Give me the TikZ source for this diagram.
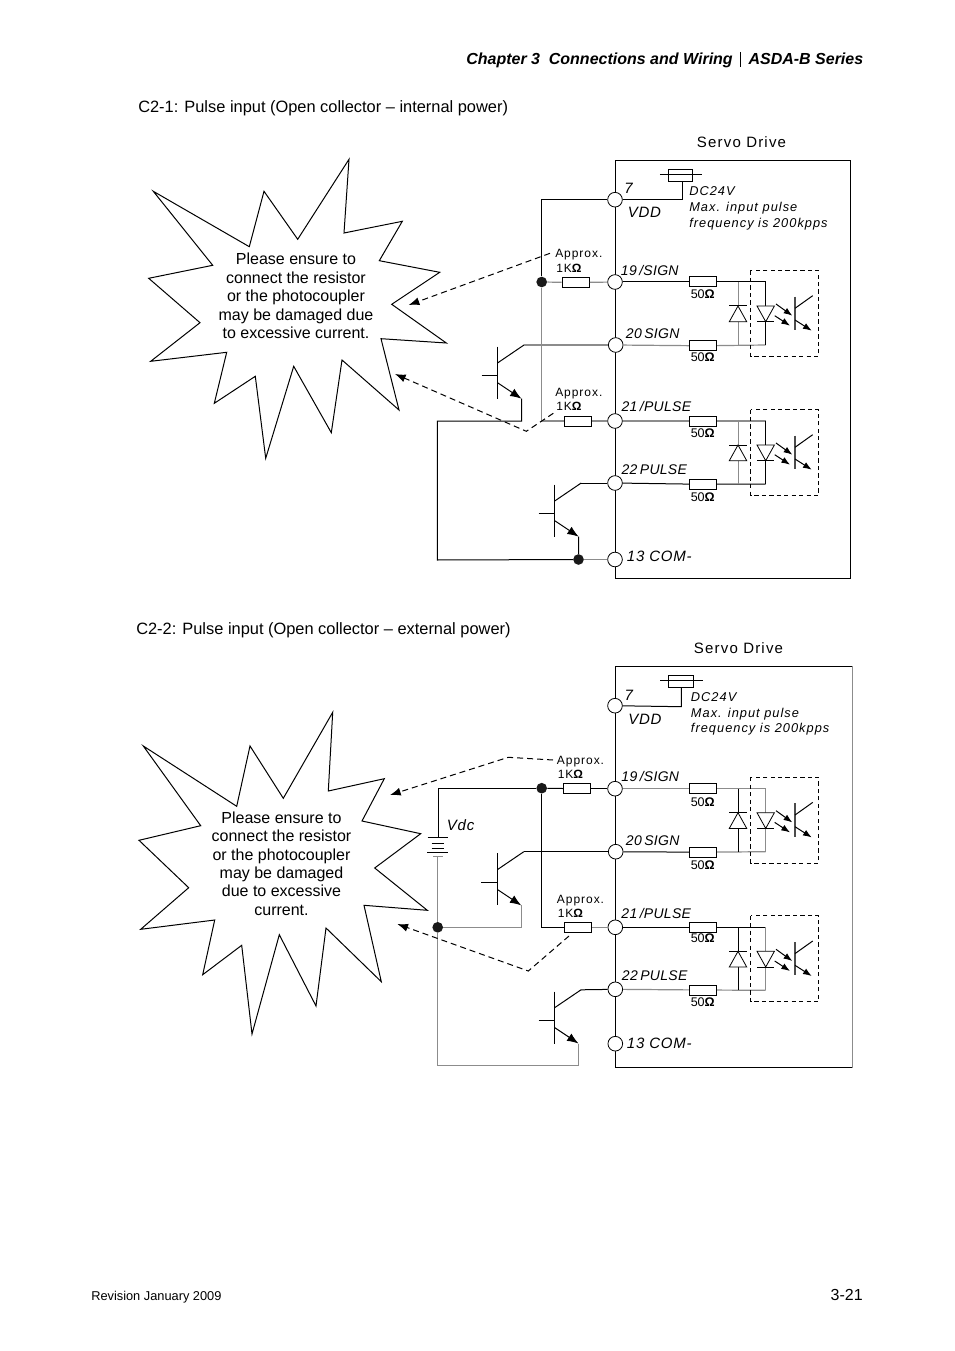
\documentclass[tikz,border=0pt]{standalone}
\usepackage{fontspec}
\setmainfont{Liberation Sans}
\newfontfamily\lsb[LetterSpace=8]{Liberation Sans}
\newfontfamily\lsc[LetterSpace=5]{Liberation Sans}
\newfontfamily\lsd[LetterSpace=2,WordSpace=0.6]{Liberation Sans}
\usetikzlibrary{arrows.meta,calc}
\definecolor{wiregray}{gray}{0.55}
\newcommand{\ohm}{{\bfseries Ω}}
\tikzset{
  wire/.style={line width=0.75pt,black},
  wg/.style={line width=0.9pt,wiregray},
  tip/.style={-{Latex[length=8.5pt,width=6.5pt]}},
  leader/.style={line width=0.75pt,dash pattern=on 4.5pt off 3pt,-{Latex[length=8pt,width=6pt]}},
  terminal/.style={circle,draw,line width=0.6pt,fill=white,minimum size=11pt,inner sep=0pt},
  jdot/.style={circle,fill=black!90,minimum size=8pt,inner sep=0pt},
  res/.style={rectangle,draw,line width=0.75pt,fill=white,minimum width=20.4pt,minimum height=7.5pt,inner sep=0pt},
  fuse/.style={rectangle,draw,line width=0.6pt,fill=white,minimum width=18.4pt,minimum height=9pt,inner sep=0pt},
  drivebox/.style={rectangle,draw,line width=0.75pt,anchor=north west,inner sep=0pt},
  burst/.style={line width=0.75pt,draw=black,fill=white,line join=miter},
  txt/.style={anchor=base west,inner sep=0pt,font=\fontsize{12.3}{14}\selectfont},
  lab/.style={anchor=base west,inner sep=0pt,font=\lsd\itshape\fontsize{10.5}{12}\selectfont},
  big/.style={anchor=base west,inner sep=0pt,font=\lsc\itshape\fontsize{11.25}{13}\selectfont},
  note/.style={anchor=base west,inner sep=0pt,font=\lsb\itshape\fontsize{9.6}{11}\selectfont},
  small/.style={anchor=base west,inner sep=0pt,font=\lsb\fontsize{9}{11}\selectfont},
  fifty/.style={anchor=base west,inner sep=0pt,font=\fontsize{9.4}{11}\selectfont},
  servo/.style={anchor=base,inner sep=0pt,font=\lsb\fontsize{11.25}{13}\selectfont},
  warn/.style={align=center,inner sep=0pt,font=\fontsize{12}{13.8}\selectfont},
}
% #1 wire y, #2 rung colour, #3 LED lead colour
\newcommand{\optocoupler}[3]{%
  \begin{scope}[shift={(0,#1)}]
    \draw[line width=0.75pt,#2] (738,0) -- (738,24) (738,39.7) -- (738,63);
    \draw[line width=0.75pt,#3] (765.7,0) -- (765.7,24) (765.7,39.7) -- (765.7,63);
    \draw[line width=0.75pt] (729.3,24) -- (746.7,24);
    \draw[line width=0.6pt,fill=white] (738,24) -- (729.3,39.7) -- (746.7,39.7) -- cycle;
    \draw[line width=0.6pt,fill=white] (757,24) -- (774.4,24) -- (765.7,39.7) -- cycle;
    \draw[line width=0.75pt] (757,39.7) -- (774.4,39.7);
    \draw[line width=0.75pt,dash pattern=on 3.2pt off 2.4pt] (750.5,-11.5) rectangle (818.7,74.3);
    \draw[line width=0.9pt,black!70] (795,14.7) -- (795,48);
    \draw[wire] (795,26.3) -- (812.7,13.7);
    \draw[wire,-{Latex[length=6.5pt,width=4.8pt]}] (795,38) -- (811.7,48.7);
    \draw[wire,-{Latex[length=6.5pt,width=4.8pt]}] (776,22) -- (792.3,33.7);
    \draw[wire,-{Latex[length=6.5pt,width=4.8pt]}] (774.7,33.7) -- (790,43.7);
  \end{scope}}
% #1 name, #2 bar x, #3 bar top y
\newcommand{\bjt}[3]{%
  \begin{scope}[shift={(#2,#3)}]
    \coordinate (#1-k) at (26.5,-1.7);
    \coordinate (#1-e) at (24,52);
    \draw[wire] (0,0) -- (0,52);
    \draw[wire] (-16,28.7) -- (0,28.7);
    \draw[wire] (#1-k) -- (0,16.3);
    \draw[wire,tip] (0,36) -- (#1-e);
  \end{scope}}
\begin{document}
\begin{tikzpicture}[x=0.75pt,y=-0.75pt]
\useasboundingbox (0,0) rectangle (954,1351);
\fill[white] (0,0) rectangle (954,1351);

% ---- page texts
\node[anchor=base east,inner sep=0pt,font=\bfseries\itshape\fontsize{12}{14}\selectfont] (hdr2) at (863.5,65) {ASDA-B Series};
\node[anchor=base east,inner sep=0pt,font=\bfseries\itshape\fontsize{12}{14}\selectfont] (hdr1) at (733,65) {Chapter 3\hspace{0.55em}Connections and Wiring};
\draw[line width=0.9pt] (740.5,52) -- (740.5,67);
\node[txt] (title1) at (138,113) {C2-1: Pulse input (Open collector – internal power)};
\node[txt] (title2) at (136,634) {C2-2: Pulse input (Open collector – external power)};
\node[anchor=base west,inner sep=0pt,font=\fontsize{9.6}{12}\selectfont] (foot) at (91,1300.5) {Revision January 2009};
\node[anchor=base east,inner sep=0pt,font=\fontsize{12}{14}\selectfont] (pageno) at (863,1300) {3-21};

% ================= C2-1 =================
\node[servo] (sd1) at (741.5,147.5) {Servo Drive};
\node[drivebox,minimum width=176pt,minimum height=312.8pt] (drive1) at (615.3,160.5) {};
\node[terminal] (t7a) at (615,199.7) {};
\node[terminal] (t19a) at (615,282) {};
\node[terminal] (t20a) at (615.7,345) {};
\node[terminal] (t21a) at (615,421) {};
\node[terminal] (t22a) at (615,483) {};
\node[terminal] (t13a) at (615,559.5) {};
\node[fuse] (fa) at (680.5,175.5) {};
\draw[wire] ([xshift=-6pt]fa.west |- 0,174.3) -- ([xshift=6.5pt]fa.east |- 0,174.3);
\draw[wire] (t7a) -- (682,199.7) -- (682,181.5);
\node[jdot] (j1) at (541.7,282) {};
\node[jdot] (j2) at (578.5,559.5) {};
\node[res] (r1a) at (575.8,282.5) {};
\node[res] (r1b) at (578,421) {};
\node[res] (r50a) at (703,282) {};
\node[res] (r50b) at (703,345.8) {};
\node[res] (r50c) at (703,421) {};
\node[res] (r50d) at (703,484.3) {};
\coordinate (c19a) at (765.7,282);
\coordinate (c20a) at (765.7,345);
\coordinate (c21a) at (765.7,421);
\coordinate (c22a) at (765.7,484);
\draw[wire] (t7a) -| (j1);
\draw[wg] (j1) -- (r1a);
\draw[wg] (r1a) -- (t19a);
\draw[wg] (j1) |- (r1b);
\draw[wg] (r1b) -- (t21a);
\draw[wire] (t19a) -- (r50a);
\draw[wire] (r50a) -- (c19a);
\draw[wg] (t20a) -- (r50b);
\draw[wg] (r50b) -- (c20a);
\draw[wg] (t21a) -- (r50c);
\draw[wg] (r50c) -- (c21a);
\draw[wire] (t22a) -- (r50d);
\draw[wire] (r50d) -- (c22a);
\optocoupler{282}{wiregray}{black}
\optocoupler{421}{wiregray}{black}
\bjt{Qa}{497.5}{346.7}
\bjt{Qb}{554.7}{484.7}
\draw[wg] (t20a) -- (Qa-k);
\draw[wire] (t22a) -- (Qb-k);
\coordinate (ca1) at (437.3,421);
\coordinate (ca2) at (437.3,560);
\draw[wire] (Qa-e) |- (ca1) -- (ca2) -- (j2);
\draw[wire] (Qb-e) -- (j2);
\draw[wg] (j2) -- (t13a);
% burst 1
\path[burst] (153.3,191.3) -- (249.3,246.7) -- (264,191.3) -- (297.7,239.3) -- (349,159.3) -- (344,233) -- (402.3,221.3) -- (379.3,260.7) -- (439.7,272.3) -- (391.7,304.3) -- (446.3,343) -- (381,338.7) -- (399,410) -- (342,360) -- (331.3,432.7) -- (293.7,366.3) -- (265.7,458.3) -- (255.3,376.3) -- (214.3,403.3) -- (226.7,352.3) -- (150.7,361.3) -- (200,322.7) -- (148.7,278.3) -- (212.7,265.3) -- cycle;
\node[warn] (wa) at (296,296) {Please ensure to\\connect the resistor\\or the photocoupler\\may be damaged due\\to excessive current.};
\coordinate (la1) at (550,253.3);
\coordinate (la2) at (408.7,305);
\coordinate (la3) at (553.3,413.3);
\coordinate (la4) at (526.3,431.3);
\coordinate (la5) at (395,374);
\draw[leader] (la1) -- (la2);
\draw[leader] (la3) -- (la4) -- (la5);
% labels
\node[big] at (624,193.3) {7};
\node[big] (vdda) at (627.5,217.7) {VDD};
\node[note] at (689,196) {DC24V};
\node[note] at (689,212) {Max. input pulse};
\node[note] at (689,227.3) {frequency is 200kpps};
\node[small] at (555,258) {Approx.};
\node[small] at (556,272.5) {1K\ohm};
\node[small] at (555,397) {Approx.};
\node[small] at (556,411) {1K\ohm};
\node[lab] at (620.7,275.7) {19 /SIGN};
\node[lab] at (625.7,339) {20 SIGN};
\node[lab] at (621.3,411.7) {21 /PULSE};
\node[lab] at (621.3,474.3) {22 PULSE};
\node[big] at (626.7,561.7) {13 COM-};
\node[fifty] at (690.5,298.7) {50\ohm};
\node[fifty] at (690.5,361.7) {50\ohm};
\node[fifty] at (690.5,437.3) {50\ohm};
\node[fifty] at (690.5,501) {50\ohm};

% ================= C2-2 =================
\node[servo] (sd2) at (738.5,653.5) {Servo Drive};
\node[drivebox,minimum width=177.2pt,minimum height=300.5pt] (drive2) at (615.3,666) {};
\draw[wg] (drive2.north east) -- (drive2.south east);
\node[terminal] (t7b) at (615,705.7) {};
\node[terminal] (t19b) at (615,788.7) {};
\node[terminal] (t20b) at (615.7,851.7) {};
\node[terminal] (t21b) at (615.3,927.3) {};
\node[terminal] (t22b) at (615.3,989.3) {};
\node[terminal] (t13b) at (615.3,1043.7) {};
\node[fuse] (fb) at (680.8,681.7) {};
\draw[wire] ([xshift=-6pt]fb.west |- 0,680.7) -- ([xshift=7pt]fb.east |- 0,680.7);
\draw[wire] (t7b) -- (681.3,706.7) -- (681.3,687.7);
\node[jdot] (j3) at (541.7,788.2) {};
\node[jdot] (j4) at (437.7,927.3) {};
\node[res] (r1c) at (577,788.7) {};
\node[res] (r1d) at (578,927.3) {};
\node[res] (r50e) at (703,788.7) {};
\node[res] (r50f) at (703,852.2) {};
\node[res] (r50g) at (703,927.3) {};
\node[res] (r50h) at (703,990) {};
\coordinate (c19b) at (765.7,788.7);
\coordinate (c20b) at (765.7,851.7);
\coordinate (c21b) at (765.7,927.3);
\coordinate (c22b) at (765.7,990.3);
\coordinate (bt) at (438.3,837.3);
\coordinate (bb) at (437.7,856.7);
\draw[wire] (j3) -| (bt);
\draw[wire] (j3) -- (r1c);
\draw[wire] (r1c) -- (t19b);
\draw[wire] (j3) |- (r1d);
\draw[wg] (r1d) -- (t21b);
\draw[wg] (t19b) -- (r50e);
\draw[wg] (r50e) -- (c19b);
\draw[wire] (t20b) -- (r50f);
\draw[wg] (r50f) -- (c20b);
\draw[wire] (t21b) -- (r50g);
\draw[wire] (r50g) -- (c21b);
\draw[wg] (t22b) -- (r50h);
\draw[wg] (r50h) -- (c22b);
\optocoupler{788.7}{black}{wiregray}
\optocoupler{927.3}{black}{wiregray}
\bjt{Qc}{497.3}{853.4}
\bjt{Qd}{554.5}{991.5}
\draw[wire] (t20b) -- (Qc-k);
\draw[wire] (t22b) -- (Qd-k);
% battery
\draw[wire] (427.7,837.3) -- (448.3,837.3);
\draw[wire] (431.7,843.5) -- (444.3,843.5);
\draw[wire] (431.7,848) -- (444.3,848);
\draw[wire] (427.3,852.7) -- (448.3,852.7);
\draw[wg] (433,856.7) -- (443.3,856.7);
\coordinate (cb1) at (437.7,1065.7);
\draw[wg] (bb) -- (j4);
\draw[wg] (j4) -- (cb1);
\draw[wg] (Qc-e) |- (j4);
\draw[wg] (cb1) -| (Qd-e);
% burst 2
\path[burst] (143.3,746) -- (236.7,806.3) -- (250,746) -- (283.3,798.3) -- (332.7,712.3) -- (328.3,791) -- (384.3,778.7) -- (362,821) -- (420.7,833.7) -- (374.7,868) -- (427.3,910.3) -- (364,905.3) -- (381.3,981.7) -- (326,928) -- (316,1006) -- (279.3,934.7) -- (252,1034) -- (241.7,945.3) -- (202.7,974.7) -- (214.7,920) -- (140.7,929.3) -- (188.7,887.7) -- (139,840.3) -- (200.7,825.7) -- cycle;
\node[warn] (wb) at (281.5,863.5) {Please ensure to\\connect the resistor\\or the photocoupler\\may be damaged\\due to excessive\\current.};
\coordinate (lb1) at (553,760);
\coordinate (lb2) at (508.3,757.3);
\coordinate (lb3) at (390,795);
\coordinate (lb4) at (569,936);
\coordinate (lb5) at (528.3,971);
\coordinate (lb6) at (397.3,924);
\draw[leader] (lb1) -- (lb2) -- (lb3);
\draw[leader] (lb4) -- (lb5) -- (lb6);
% labels
\node[big] at (624.3,700.7) {7};
\node[big] (vddb) at (628,724) {VDD};
\node[big] at (446.7,830) {Vdc};
\node[note] at (690.7,701.3) {DC24V};
\node[note] at (690.7,717.3) {Max. input pulse};
\node[note] at (690.7,732.7) {frequency is 200kpps};
\node[small] at (556.7,764.5) {Approx.};
\node[small] at (557.5,778) {1K\ohm};
\node[small] at (556.7,903.8) {Approx.};
\node[small] at (557.5,917.3) {1K\ohm};
\node[lab] at (621.2,781.7) {19 /SIGN};
\node[lab] at (625.7,845) {20 SIGN};
\node[lab] at (621.2,918.3) {21 /PULSE};
\node[lab] at (621.7,980.7) {22 PULSE};
\node[big] at (626.7,1048.5) {13 COM-};
\node[fifty] at (690.5,806) {50\ohm};
\node[fifty] at (690.5,869) {50\ohm};
\node[fifty] at (690.5,942.7) {50\ohm};
\node[fifty] at (690.5,1006.7) {50\ohm};
\end{tikzpicture}
\end{document}
